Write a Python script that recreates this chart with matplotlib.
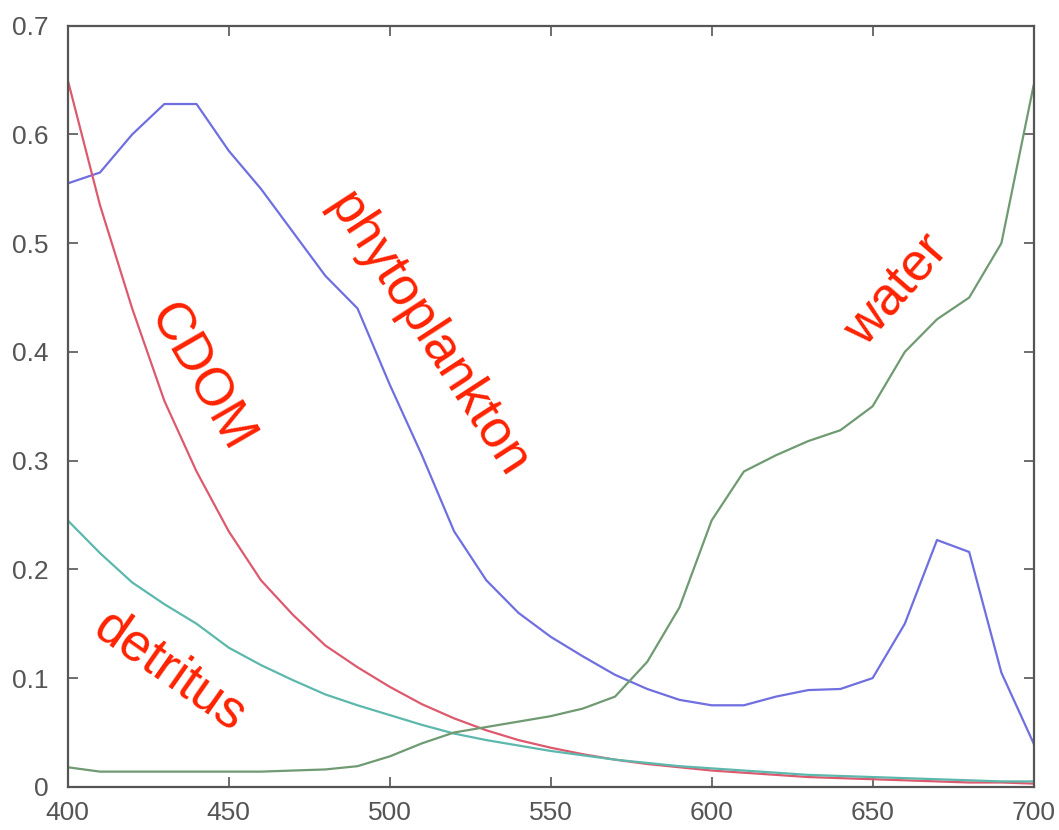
import numpy as np
import matplotlib
matplotlib.use("Agg")
import matplotlib.pyplot as plt

plt.rcParams.update({
    "font.family": ["Liberation Sans", "DejaVu Sans"],
    "xtick.direction": "in",
    "ytick.direction": "in",
})

# absorption spectra, 400-700 nm in 10 nm steps
wavelength = np.arange(400, 701, 10)

phytoplankton = [0.555, 0.565, 0.600, 0.628, 0.628, 0.585, 0.550, 0.510, 0.470, 0.440,
                 0.370, 0.305, 0.235, 0.190, 0.160, 0.138, 0.120, 0.103, 0.090, 0.080,
                 0.075, 0.075, 0.083, 0.089, 0.090, 0.100, 0.150, 0.227, 0.216, 0.105,
                 0.040]
cdom = [0.650, 0.535, 0.440, 0.355, 0.290, 0.235, 0.190, 0.158, 0.130, 0.110,
        0.092, 0.076, 0.063, 0.052, 0.043, 0.036, 0.030, 0.025, 0.021, 0.018,
        0.015, 0.013, 0.011, 0.009, 0.008, 0.007, 0.006, 0.005, 0.004, 0.004,
        0.003]
detritus = [0.245, 0.215, 0.188, 0.168, 0.150, 0.128, 0.112, 0.098, 0.085, 0.075,
            0.066, 0.057, 0.049, 0.043, 0.038, 0.033, 0.029, 0.025, 0.022, 0.019,
            0.017, 0.015, 0.013, 0.011, 0.010, 0.009, 0.008, 0.007, 0.006, 0.005,
            0.005]
water = [0.018, 0.014, 0.014, 0.014, 0.014, 0.014, 0.014, 0.015, 0.016, 0.019,
         0.028, 0.040, 0.050, 0.055, 0.060, 0.065, 0.072, 0.083, 0.115, 0.165,
         0.245, 0.290, 0.305, 0.318, 0.328, 0.350, 0.400, 0.430, 0.450, 0.500,
         0.645]

xticks = [400, 450, 500, 550, 600, 650, 700]
yticks = [0, 0.1, 0.2, 0.3, 0.4, 0.5, 0.6, 0.7]
ytick_labels = ["0", "0.1", "0.2", "0.3", "0.4", "0.5", "0.6", "0.7"]

fig = plt.figure(figsize=(10.59, 8.30), dpi=100)
ax = fig.add_axes([0.064, 0.052, 0.912, 0.917])

ax.plot(wavelength, phytoplankton, color="#6f6fe0", linewidth=1.6)
ax.plot(wavelength, cdom, color="#dd5a6e", linewidth=1.6)
ax.plot(wavelength, detritus, color="#5cb8ac", linewidth=1.6)
ax.plot(wavelength, water, color="#6f9a72", linewidth=1.6)

ax.set_xlim(400, 700)
ax.set_ylim(0, 0.7)
ax.set_xticks(xticks)
ax.set_yticks(yticks)
ax.set_yticklabels(ytick_labels)
ax.tick_params(which="both", top=True, right=True, length=7, width=1.2,
               color="#555555", labelsize=19, labelcolor="#555555")
ax.tick_params(axis="x", pad=10)
ax.tick_params(axis="y", pad=14)
for s in ax.spines.values():
    s.set_color("#555555")
    s.set_linewidth(1.6)

label_kw = dict(color="#ff2200", fontsize=38, ha="center", va="center",
                rotation_mode="anchor")
ax.text(441, 0.376, "CDOM", rotation=-60, **label_kw)
ax.text(511.8, 0.416, "phytoplankton", rotation=-57, **label_kw)
ax.text(657.5, 0.457, "water", rotation=49, **label_kw)
ax.text(431.7, 0.106, "detritus", rotation=-35, **label_kw)

fig.savefig("out.png", dpi=100, facecolor="white")
